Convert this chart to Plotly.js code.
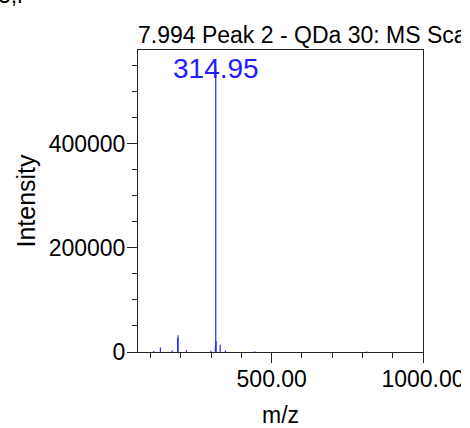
<!DOCTYPE html>
<html>
<head>
<meta charset="utf-8">
<script src="https://cdn.plot.ly/plotly-3.0.1.min.js"></script>
<style>
html,body{margin:0;padding:0;background:#fff;}
#wrap{width:461px;height:428px;overflow:hidden;position:relative;}
#chart{width:461px;height:428px;}
</style>
</head>
<body>
<div id="wrap"><div id="chart"></div></div>
<script>
// Spectrum data (m/z, intensity)
const mz        = [110,   132,  171,  189,   190.5, 218,  299,  313.9, 314.95, 316.0, 329.8, 347,  444,  814];
const intensity = [2000,  8500, 3000, 27000, 32000, 4000, 2500, 12000, 545000, 21000, 14000, 3000, 1500, 1000];
const xTickVals   = [500, 1000];
const xTickLabels = ["500.00", "1000.00"];
const yTickVals   = [0, 200000, 400000];
const yTickLabels = ["0", "200000", "400000"];
const titleText = "7.994 Peak 2 - QDa 30: MS Scan";
const peakLabel = "314.95";
const peakLabelMz = 314.95;

// build stick lines from data
const sx = [], sy = [];
for (let i = 0; i < mz.length; i++) {
  sx.push(mz[i], mz[i], null);
  sy.push(0, intensity[i], null);
}
const peakTop = intensity[mz.indexOf(peakLabelMz)];

const FONT = 'Liberation Sans, Arial, sans-serif';
const axisColor = '#222';

const data = [{
  type: 'scatter', mode: 'lines', x: sx, y: sy,
  line: {color: 'rgb(40,40,255)', width: 1.2},
  hoverinfo: 'skip', cliponaxis: true, showlegend: false
}];

const layout = {
  width: 461, height: 428,
  margin: {l: 138, r: 38, t: 50, b: 76, pad: 0},
  paper_bgcolor: '#fff', plot_bgcolor: '#fff',
  font: {family: FONT, color: '#000', size: 23},
  title: {text: titleText, x: 138/461, xanchor: 'left', xref: 'container',
          y: 1 - 35/428, yanchor: 'middle', yref: 'container',
          font: {family: FONT, size: 23, color: '#000'}},
  xaxis: {
    range: [58, 1000], showgrid: false, zeroline: false,
    showline: true, linecolor: axisColor, linewidth: 1, mirror: true,
    ticks: 'outside', ticklen: 10, tickcolor: axisColor, tickwidth: 1,
    tickvals: xTickVals, ticktext: xTickLabels, ticklabeloverflow: 'allow',
    ticklabelstandoff: -4,
    tickfont: {family: FONT, size: 23, color: '#000'},
    minor: {dtick: 100, tick0: 0, ticks: 'outside', ticklen: 5, tickcolor: axisColor, showgrid: false},
    title: {text: 'm/z', font: {family: FONT, size: 23, color: '#000'}},
    fixedrange: true
  },
  yaxis: {
    range: [0, 580000], showgrid: false, zeroline: false,
    showline: true, linecolor: axisColor, linewidth: 1, mirror: true,
    ticks: 'outside', ticklen: 10, tickcolor: axisColor, tickwidth: 1,
    tickvals: yTickVals, ticktext: yTickLabels, ticklabeloverflow: 'allow',
    ticklabelstandoff: -3,
    tickfont: {family: FONT, size: 23, color: '#000'},
    minor: {dtick: 50000, tick0: 0, ticks: 'outside', ticklen: 5, tickcolor: axisColor, showgrid: false},
    title: {text: 'Intensity', font: {family: FONT, size: 25, color: '#000'}, standoff: 5},
    automargin: true,
    fixedrange: true
  },
  annotations: [
    {x: peakLabelMz, y: peakTop, xref: 'x', yref: 'y', text: peakLabel, showarrow: false,
     xanchor: 'center', yanchor: 'middle', yshift: 0,
     font: {family: FONT, size: 28, color: 'rgb(30,30,255)'}},
    {x: -142/285, y: 1 + 55/302, xref: 'paper', yref: 'paper', text: '3,l', showarrow: false,
     xanchor: 'left', yanchor: 'middle', font: {family: FONT, size: 23, color: '#000'}}
  ],
  showlegend: false
};

Plotly.newPlot('chart', data, layout, {staticPlot: true, displayModeBar: false});
</script>
</body>
</html>
